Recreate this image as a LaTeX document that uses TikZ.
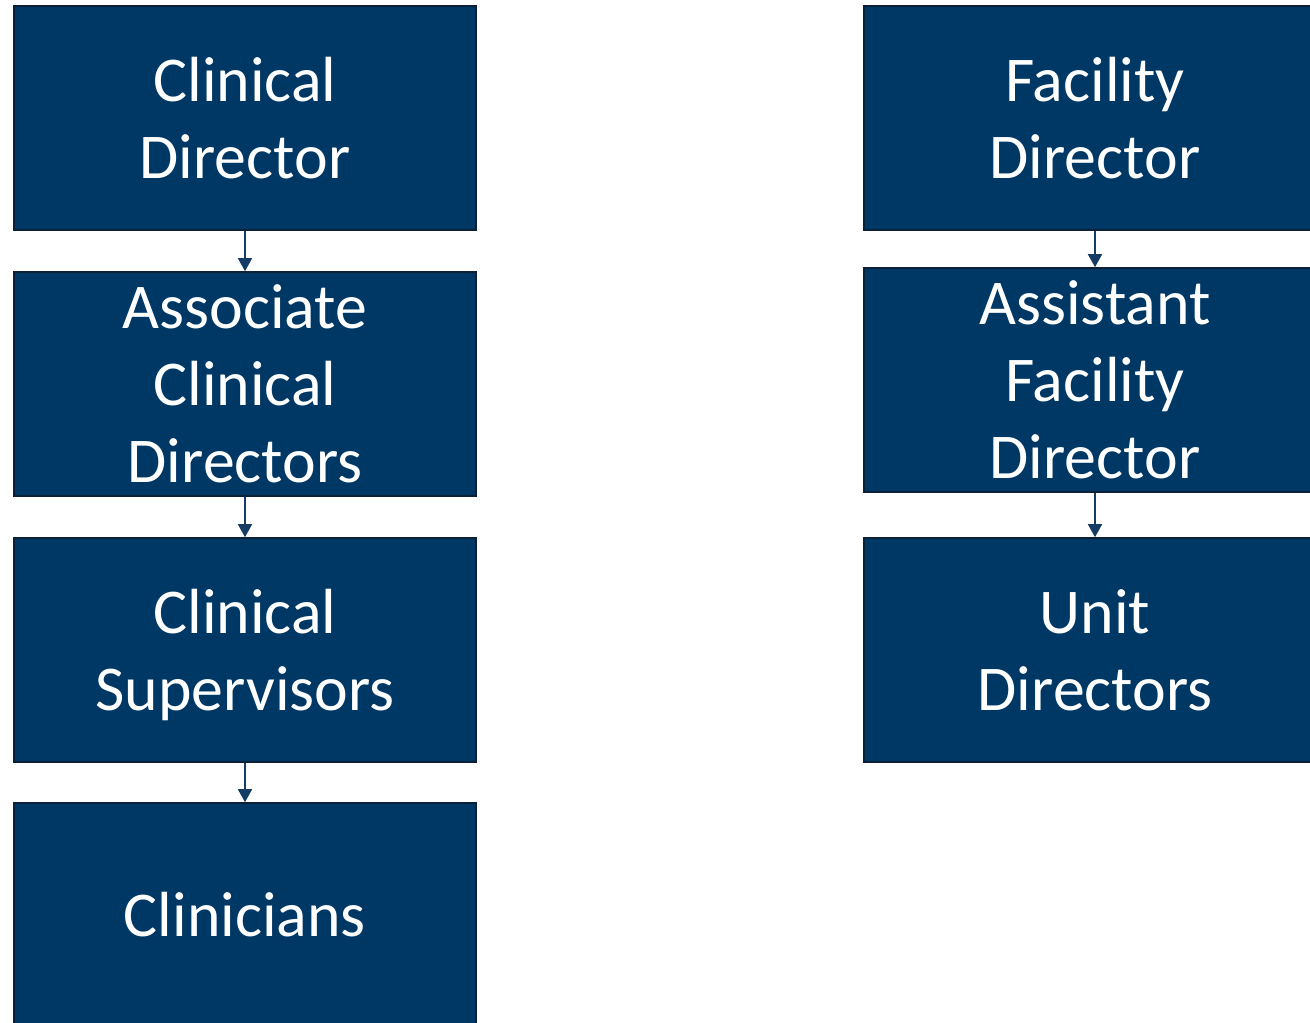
\documentclass[tikz,border=0pt]{standalone}
\usepackage{fontspec}
\setmainfont{Carlito}
\usetikzlibrary{arrows.meta}
\definecolor{boxfill}{RGB}{0,56,101}
\definecolor{boxline}{RGB}{12,32,56}
\definecolor{arrowcol}{RGB}{20,60,100}
\tikzset{
  orgbox/.style={draw=boxline, line width=1.6pt, fill=boxfill, text=white,
    minimum width=462pt, minimum height=224pt, inner sep=0pt,
    align=center, font=\fontsize{63.8}{77}\selectfont},
  link/.style={draw=arrowcol, line width=1.6pt, -{Triangle[width=14pt,length=13pt]}}
}
\begin{document}
\begin{tikzpicture}[x=1pt,y=-1pt]
\useasboundingbox (0,0) rectangle (1310,1023);
\clip (0,0) rectangle (1310,1023);
\node[orgbox] (cd) at (245,118) {Clinical\\Director};
\node[orgbox] (acd) at (245,384) {Associate\\Clinical\\Directors};
\node[orgbox, text depth=0pt] (cs) at (245,650) {Clinical\\Supervisors};
\node[orgbox] (cl) at (245,915) {Clinicians};
\node[orgbox] (fd) at (1095,118) {Facility\\Director};
\node[orgbox] (afd) at (1095,380) {Assistant\\Facility\\Director};
\node[orgbox] (ud) at (1095,650) {Unit\\Directors};
\draw[link] (cd) -- (acd);
\draw[link] (acd) -- (cs);
\draw[link] (cs) -- (cl);
\draw[link] (fd) -- (afd);
\draw[link] (afd) -- (ud);
\end{tikzpicture}
\end{document}
